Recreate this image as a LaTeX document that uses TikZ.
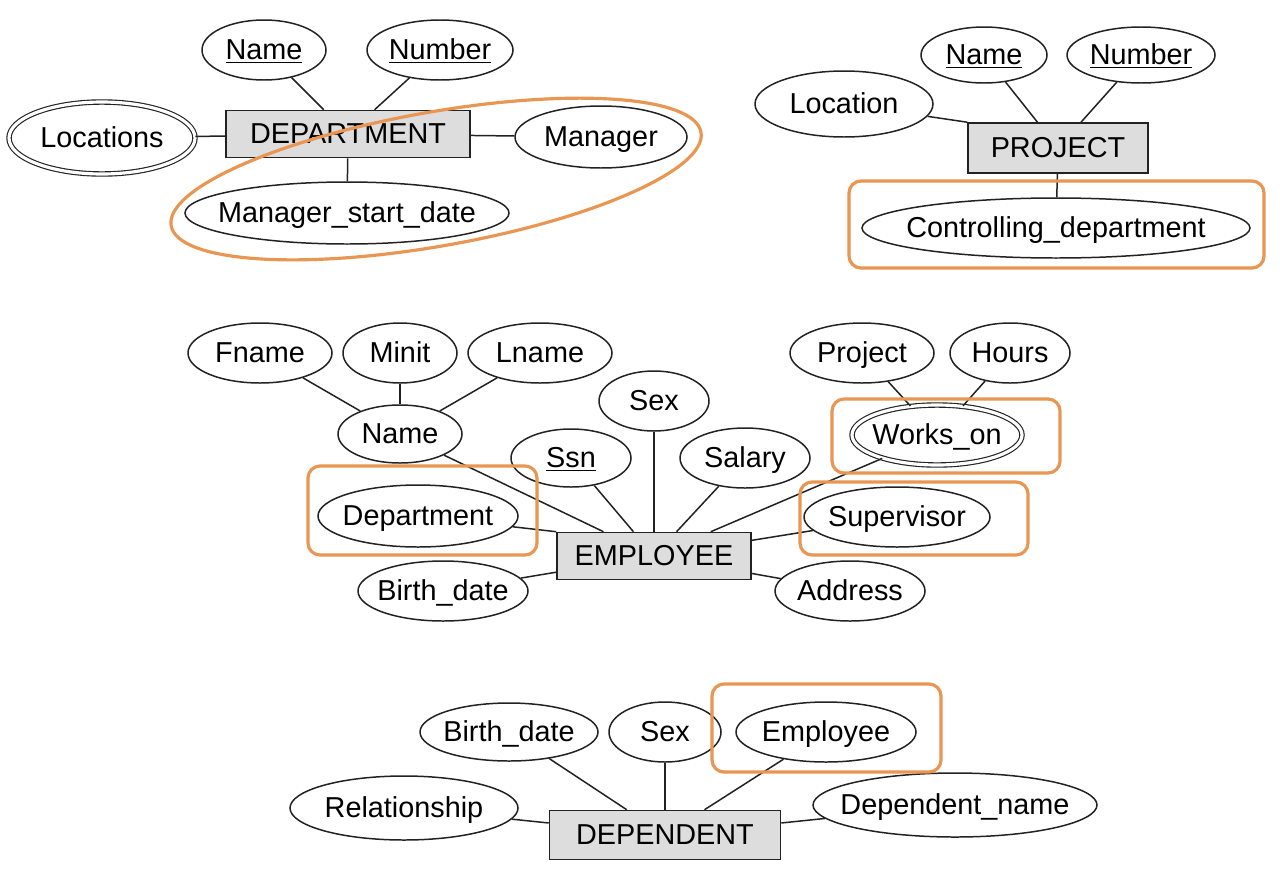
\documentclass[tikz,border=0pt]{standalone}
\usepackage{fontspec}
\setmainfont{Liberation Sans}
\usetikzlibrary{shapes.geometric}
\newdimen\px \px=0.02cm
\newcommand{\tx}[1]{\makebox[0pt]{\smash{#1}\vphantom{X}}}
\definecolor{hl}{RGB}{232,150,82}
\definecolor{entfill}{RGB}{221,221,221}
\definecolor{ink}{RGB}{34,34,34}
\begin{document}
\begin{tikzpicture}[x=0.02cm,y=-0.02cm,
  font=\fontsize{16.4}{19}\selectfont,
  attr/.style 2 args={ellipse, draw=ink, line width=0.85pt, inner sep=0pt,
     minimum width=#1\px, minimum height=#2\px},
  mattr/.style 2 args={attr={#1}{#2}, double, double distance=1.8pt, line width=0.65pt},
  entity/.style 2 args={rectangle, draw=ink, fill=entfill, line width=0.9pt, inner sep=0pt,
     minimum width=#1\px, minimum height=#2\px},
  conn/.style={draw=ink, line width=0.85pt},
  hlbox/.style={draw=hl, line width=1.8pt, rounded corners=12\px},
  hlell/.style={draw=hl, line width=1.8pt}]
\fill[white] (0,0) rectangle (1280,879);

% ---------- DEPARTMENT ----------
\node[entity={244}{47}] (dept) at (348,134) {DEPARTMENT};
\node[attr={124}{60}] (dname) at (264,50) {\tx{\underline{Name}}};
\node[attr={146}{60}] (dnum) at (440,50) {\tx{\underline{Number}}};
\node[mattr={186}{72}] (dlocs) at (102,138) {\tx{Locations}};
\node[attr={172}{62}] (dmgr) at (601,137) {\tx{Manager}};
\node[attr={324}{62}] (dmsd) at (347,213) {\tx{Manager\_start\_date}};
\draw[conn] (dname) -- (dept);
\draw[conn] (dnum) -- (dept);
\draw[conn] (dlocs) -- (dept);
\draw[conn] (dmgr) -- (dept);
\draw[conn] (dmsd) -- (dept);

% ---------- PROJECT ----------
\node[entity={180}{50}] (proj) at (1058,148) {PROJECT};
\node[attr={126}{56}] (pname) at (984,55) {\tx{\underline{Name}}};
\node[attr={148}{56}] (pnum) at (1141,55) {\tx{\underline{Number}}};
\node[attr={178}{66}] (ploc) at (844,104) {\tx{Location}};
\node[attr={388}{60}] (pcd) at (1056,228) {\tx{Controlling\_department}};
\draw[conn] (pname) -- (proj);
\draw[conn] (pnum) -- (proj);
\draw[conn] (ploc) -- (proj.north west);
\draw[conn] (pcd) -- (proj);

% ---------- EMPLOYEE ----------
\node[entity={194}{47}] (emp) at (654,556) {EMPLOYEE};
\node[attr={144}{60}] (fname) at (260,353) {\tx{Fname}};
\node[attr={114}{60}] (minit) at (400,353) {\tx{Minit}};
\node[attr={144}{60}] (lname) at (540,353) {\tx{Lname}};
\node[attr={124}{58}] (ename) at (400,434) {\tx{Name}};
\node[attr={120}{58}] (ssn) at (571,458) {\tx{\underline{Ssn}}};
\node[attr={200}{62}] (edept) at (418,516) {\tx{Department}};
\node[attr={170}{60}] (ebd) at (443,591) {\tx{Birth\_date}};
\node[attr={110}{60}] (esex) at (654,401) {\tx{Sex}};
\node[attr={130}{60}] (sal) at (745,458) {\tx{Salary}};
\node[attr={144}{60}] (eproj) at (862,353) {\tx{Project}};
\node[attr={120}{60}] (hours) at (1010,353) {\tx{Hours}};
\node[mattr={170}{60}] (works) at (937,435) {\tx{Works\_on}};
\node[attr={186}{60}] (sup) at (897,517) {\tx{Supervisor}};
\node[attr={150}{60}] (addr) at (850,591) {\tx{Address}};
\draw[conn] (fname) -- (ename);
\draw[conn] (minit) -- (ename);
\draw[conn] (lname) -- (ename);
\draw[conn] (ename) -- (emp);
\draw[conn] (ssn) -- (emp);
\draw[conn] (edept) -- (emp.north west);
\draw[conn] (ebd) -- (emp);
\draw[conn] (esex) -- (emp);
\draw[conn] (sal) -- (emp);
\draw[conn] (works) -- (emp);
\draw[conn] (sup) -- (emp);
\draw[conn] (addr) -- (emp);
\draw[conn] (eproj) -- (works);
\draw[conn] (hours) -- (works);

% ---------- DEPENDENT ----------
\node[entity={231}{49}] (dep) at (665,835) {DEPENDENT};
\node[attr={178}{58}] (dbd) at (509,732) {\tx{Birth\_date}};
\node[attr={112}{60}] (dsex) at (665,732) {\tx{Sex}};
\node[attr={180}{60}] (demp) at (826,732) {\tx{Employee}};
\node[attr={228}{64}] (rel) at (404,808) {\tx{Relationship}};
\node[attr={284}{64}] (depname) at (955,805) {\tx{Dependent\_name}};
\draw[conn] (dbd) -- (dep);
\draw[conn] (dsex) -- (dep);
\draw[conn] (demp) -- (dep);
\draw[conn] (rel) -- (dep);
\draw[conn] (depname) -- (dep);

% ---------- highlights ----------
\coordinate (hlc) at (436,179);
\draw[hlell, rotate around={10:(hlc)}] (hlc) ellipse [x radius=269, y radius=67];
\draw[hlbox] (849,181) rectangle (1264,268);
\draw[hlbox] (308,466) rectangle (537,555);
\draw[hlbox] (832,399) rectangle (1060,473);
\draw[hlbox] (800,482) rectangle (1028,555);
\draw[hlbox] (712,684) rectangle (941,772);
\end{tikzpicture}
\end{document}
